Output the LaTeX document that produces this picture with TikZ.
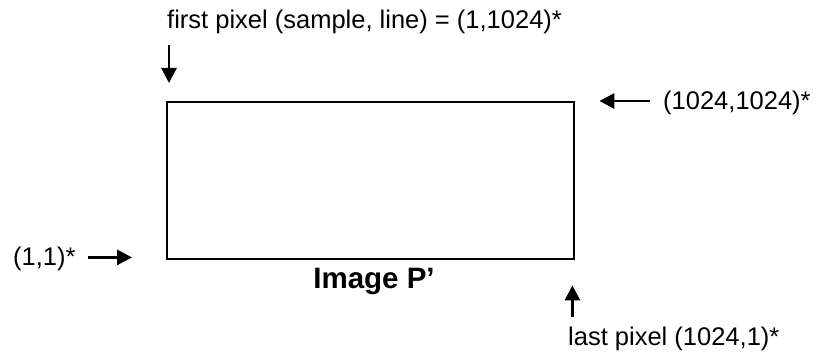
\documentclass[tikz,border=0pt]{standalone}
\usepackage{fontspec}
\setmainfont{Liberation Sans}
\usetikzlibrary{arrows.meta,calc}
\tikzset{
  lbl/.style={inner sep=0pt, font=\fontsize{25.5}{30}\selectfont},
  ptr/.style={line width=2.8pt, -{Triangle[length=15pt,width=15pt]}},
  frame/.style={draw, line width=2.4pt, inner sep=0pt, minimum width=407pt, minimum height=157pt}
}
\begin{document}
\begin{tikzpicture}[x=1pt,y=-1pt]
\useasboundingbox (0,0) rectangle (818,358);
\node[frame, anchor=north west] (img) at (166,101) {};
\node[lbl, anchor=base west] (first) at (167,29) {first pixel (sample, line) = (1,1024)*};
\node[lbl, anchor=base west] (topright) at (663,110) {(1024,1024)*};
\node[lbl, anchor=base west] (origin) at (13,265) {(1,1)*};
\node[lbl, anchor=base west] (last) at (568,345) {last pixel (1024,1)*};
\node[inner sep=0pt, font=\fontsize{29.5}{32}\selectfont\bfseries, anchor=base] (title) at (374,288) {Image P\textquoteright};
\coordinate (d1) at ($(img.north west)+(3,-56)$);
\coordinate (d2) at ($(img.north west)+(3,-18)$);
\coordinate (r1) at ($(img.north east)+(75,0)$);
\coordinate (r2) at ($(img.north east)+(24,0)$);
\coordinate (l1) at ($(img.south west)+(-78,-3)$);
\coordinate (l2) at ($(img.south west)+(-34,-3)$);
\coordinate (u1) at ($(img.south east)+(-3,57)$);
\coordinate (u2) at ($(img.south east)+(-3,25)$);
\draw[ptr] (d1) -- (d2);
\draw[ptr] (r1) -- (r2);
\draw[ptr] (l1) -- (l2);
\draw[ptr] (u1) -- (u2);
\end{tikzpicture}
\end{document}
